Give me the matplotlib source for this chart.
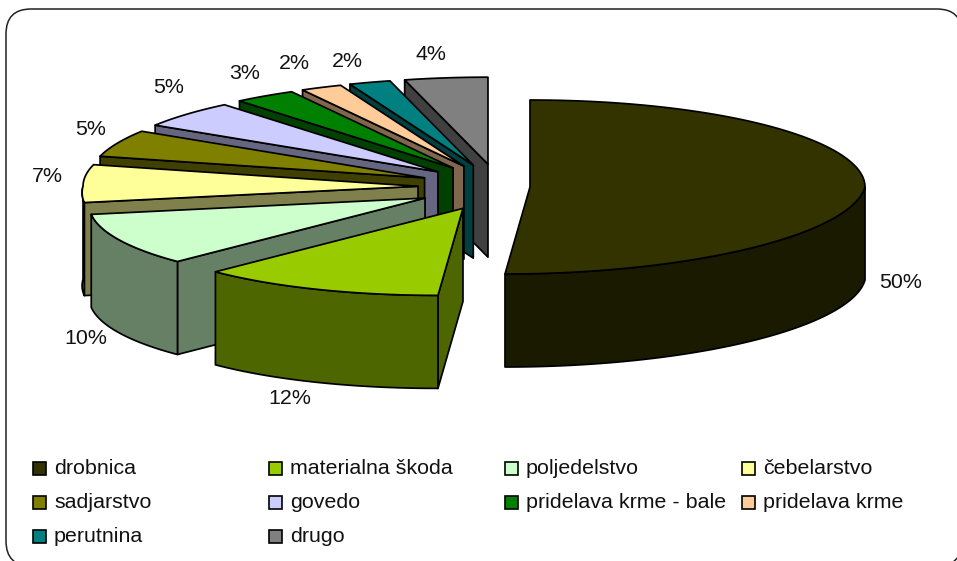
import numpy as np
import matplotlib
matplotlib.use("Agg")
import matplotlib.pyplot as plt
from matplotlib.patches import Polygon, Rectangle, FancyBboxPatch

plt.rcParams['font.family'] = ['Liberation Sans', 'DejaVu Sans']

categories = ['drobnica', 'materialna škoda', 'poljedelstvo', 'čebelarstvo', 'sadjarstvo',
              'govedo', 'pridelava krme - bale', 'pridelava krme', 'perutnina', 'drugo']
values = [50, 12, 10, 7, 5, 5, 3, 2, 2, 4]
top_colors = ['#333300', '#99CC00', '#CCFFCC', '#FFFF99', '#808000',
              '#CCCCFF', '#008000', '#FFCC99', '#008080', '#808080']
side_colors = ['#1A1A00', '#4D6600', '#668066', '#80804D', '#404000',
               '#666680', '#004000', '#80664D', '#004040', '#404040']
label_pos = [(901, 282), (290, 398), (86, 338), (47, 176), (91, 129),
             (169, 87), (245, 73), (294, 63), (347, 61), (431, 54)]

# projection of the exploded pie, in pixels
CX, CY = 498, 187
EXPL_L, EXPL_R, EXPL_Y, EXPL_SHEAR = 80, 32, 23, 6
RX, RY, SHEAR, DEPTH = 335, 87, 25, 93
LW = 1.25
FS = 15.4

fig = plt.figure(figsize=(9.57, 5.61), dpi=100)
ax = fig.add_axes([0, 0, 1, 1])
ax.set_xlim(0, 957)
ax.set_ylim(561, 0)
ax.axis('off')

ax.add_patch(FancyBboxPatch((31, 34), 906, 507, boxstyle='round,pad=25,rounding_size=25',
                            fc='white', ec='#222222', lw=1.1, zorder=0))


def apex(m):
    s, c = np.sin(m), np.cos(m)
    x = CX + (EXPL_L if s < 0 else EXPL_R) * s + EXPL_SHEAR * min(c, 0)
    return np.array([x, CY - EXPL_Y * c])


def outer(a, t):
    t = np.atleast_1d(t)
    c = np.cos(t)
    return np.column_stack([a[0] + RX * np.sin(t) + SHEAR * np.minimum(c, 0),
                            a[1] - RY * c])


def poly(pts, fc, z):
    ax.add_patch(Polygon(pts, closed=True, fc=fc, ec='black', lw=LW, joinstyle='round', zorder=z))


down = np.array([0, DEPTH])
edges = np.radians(np.concatenate([[0], np.cumsum(values)]) * 3.6)
order = list(range(len(values) - 1, -1, -1))
order = order[:-1] + [0]
for z, i in enumerate(order):
    t1, t2 = edges[i], edges[i + 1]
    a = apex((t1 + t2) / 2)
    base = 10 + z * 3
    if np.pi <= t1 < 2 * np.pi:
        o = outer(a, t1)[0]
        poly([a, o, o + down, a + down], side_colors[i], base)
    lo, hi = max(t1, np.pi / 2), min(t2, 3 * np.pi / 2)
    if hi > lo:
        arc = outer(a, np.linspace(lo, hi, 80))
        poly(np.vstack([arc, (arc + down)[::-1]]), side_colors[i], base + 1)
    arc = outer(a, np.linspace(t1, t2, 120))
    poly(np.vstack([a, arc]), top_colors[i], base + 2)

for (x, y), v in zip(label_pos, values):
    ax.text(x, y, f'{v}%', ha='center', va='center', fontsize=FS, color='#111111', zorder=60)

col_x = [33, 269, 505, 742]
row_y = [468, 502, 536]
for k, (name, col) in enumerate(zip(categories, top_colors)):
    x, y = col_x[k % 4], row_y[k // 4]
    ax.add_patch(Rectangle((x, y - 6.5), 13, 13, fc=col, ec='black', lw=1.2, zorder=60))
    ax.text(x + 21, y, name, ha='left', va='center', fontsize=FS, color='#111111', zorder=60)

fig.savefig('out.png', dpi=100)
